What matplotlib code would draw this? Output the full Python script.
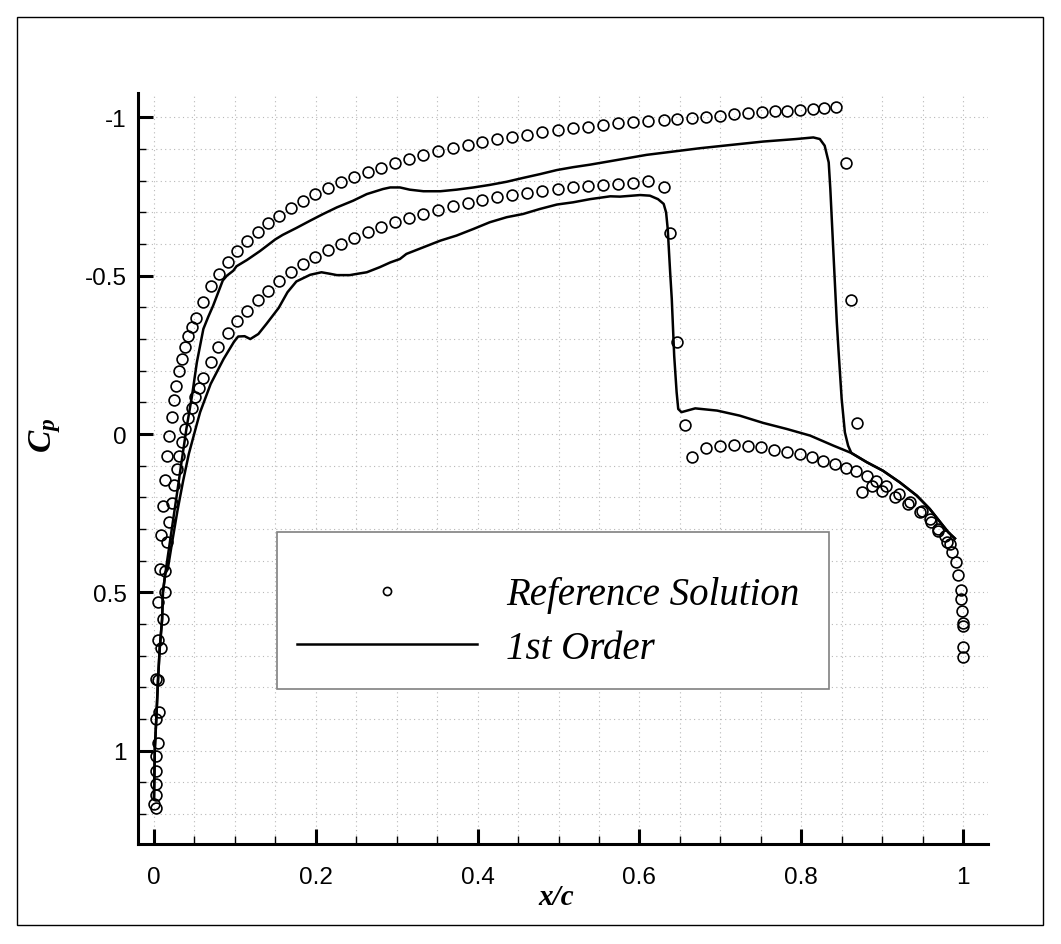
import matplotlib
matplotlib.use('Agg')
import matplotlib.pyplot as plt
from matplotlib.ticker import MultipleLocator, FuncFormatter
from matplotlib.patches import Rectangle

plt.rcParams['font.family'] = ['Liberation Sans', 'DejaVu Sans']
plt.rcParams['axes.unicode_minus'] = False
plt.rcParams['mathtext.fontset'] = 'custom'
plt.rcParams['mathtext.it'] = 'Liberation Serif:italic:bold'
plt.rcParams['mathtext.rm'] = 'Liberation Serif:bold'

# ---- reference solution (circles) ----
# stagnation region near the leading edge
ref_le_x = [0.002, 0.000, 0.002, 0.002, 0.003, 0.002, 0.005, 0.003, 0.006, 0.003,
            0.005, 0.009, 0.005, 0.011, 0.005, 0.013, 0.014, 0.007]
ref_le_cp = [1.183, 1.169, 1.141, 1.106, 1.064, 1.016, 0.976, 0.900, 0.877, 0.774,
             0.777, 0.677, 0.650, 0.585, 0.532, 0.498, 0.432, 0.427]

# surface with the stronger suction (shock near x/c = 0.86)
ref_up_x = [0.009, 0.011, 0.013, 0.016, 0.019, 0.022, 0.025, 0.027, 0.031, 0.035,
            0.038, 0.042, 0.047, 0.052, 0.060, 0.070, 0.080, 0.091, 0.103, 0.115,
            0.128, 0.141, 0.155, 0.169, 0.184, 0.199, 0.215, 0.231, 0.247, 0.264,
            0.281, 0.298, 0.315, 0.333, 0.351, 0.369, 0.388, 0.406, 0.424, 0.443,
            0.461, 0.480, 0.499, 0.518, 0.537, 0.555, 0.574, 0.592, 0.611, 0.630,
            0.647, 0.665, 0.682, 0.700, 0.717, 0.734, 0.751, 0.768, 0.783, 0.799,
            0.814, 0.828, 0.843, 0.855, 0.862, 0.869, 0.875, 0.887, 0.900, 0.916,
            0.932, 0.947, 0.959, 0.969, 0.980]
ref_up_cp = [0.319, 0.227, 0.145, 0.070, 0.007, -0.053, -0.107, -0.153, -0.198, -0.237,
             -0.274, -0.309, -0.337, -0.367, -0.418, -0.467, -0.506, -0.543, -0.579, -0.611,
             -0.639, -0.667, -0.690, -0.714, -0.737, -0.758, -0.776, -0.795, -0.811, -0.827,
             -0.840, -0.856, -0.869, -0.882, -0.893, -0.905, -0.913, -0.924, -0.932, -0.939,
             -0.946, -0.953, -0.960, -0.966, -0.970, -0.976, -0.982, -0.985, -0.988, -0.992,
             -0.995, -0.998, -1.003, -1.006, -1.010, -1.013, -1.016, -1.020, -1.021, -1.025,
             -1.027, -1.030, -1.032, -0.855, -0.424, -0.035, 0.184, 0.165, 0.179, 0.200,
             0.221, 0.245, 0.269, 0.306, 0.340]

# surface with the weaker suction (shock near x/c = 0.64)
ref_lo_x = [0.016, 0.018, 0.022, 0.025, 0.028, 0.031, 0.035, 0.038, 0.042, 0.047,
            0.051, 0.056, 0.060, 0.070, 0.079, 0.091, 0.103, 0.115, 0.128, 0.141,
            0.155, 0.169, 0.184, 0.199, 0.215, 0.231, 0.247, 0.264, 0.281, 0.298,
            0.315, 0.333, 0.351, 0.369, 0.388, 0.406, 0.424, 0.443, 0.461, 0.480,
            0.499, 0.518, 0.537, 0.555, 0.574, 0.592, 0.611, 0.630, 0.638, 0.647,
            0.656, 0.665, 0.682, 0.700, 0.717, 0.734, 0.750, 0.766, 0.783, 0.798,
            0.813, 0.827, 0.842, 0.855, 0.868, 0.881, 0.893, 0.905, 0.921, 0.934,
            0.949, 0.960, 0.969, 0.978, 0.984]
ref_lo_cp = [0.342, 0.277, 0.218, 0.161, 0.111, 0.069, 0.026, -0.016, -0.050, -0.082,
             -0.116, -0.145, -0.177, -0.228, -0.274, -0.318, -0.358, -0.390, -0.423, -0.453,
             -0.482, -0.511, -0.537, -0.560, -0.582, -0.600, -0.618, -0.637, -0.653, -0.671,
             -0.682, -0.695, -0.708, -0.720, -0.729, -0.739, -0.748, -0.756, -0.761, -0.769,
             -0.775, -0.779, -0.785, -0.788, -0.790, -0.793, -0.798, -0.781, -0.635, -0.291,
             -0.029, 0.072, 0.045, 0.037, 0.035, 0.037, 0.042, 0.050, 0.056, 0.063,
             0.072, 0.084, 0.095, 0.107, 0.118, 0.133, 0.148, 0.163, 0.190, 0.216,
             0.242, 0.277, 0.300, 0.321, 0.348]

# trailing edge column
ref_te_x = [0.987, 0.991, 0.994, 0.997, 0.998, 0.999, 1.000, 1.000, 1.000, 1.000]
ref_te_cp = [0.374, 0.405, 0.445, 0.492, 0.521, 0.558, 0.598, 0.606, 0.674, 0.706]

# ---- 1st order solution (line) ----
fo_le_x = [0.000, 0.001, 0.003, 0.005, 0.007, 0.010, 0.011, 0.014]
fo_le_cp = [1.150, 0.995, 0.890, 0.774, 0.679, 0.585, 0.500, 0.440]

fo_up_x = [0.016, 0.022, 0.028, 0.034, 0.040, 0.047, 0.053, 0.061, 0.067, 0.073,
           0.079, 0.085, 0.090, 0.098, 0.102, 0.115, 0.131, 0.150, 0.159, 0.176,
           0.193, 0.209, 0.226, 0.246, 0.263, 0.283, 0.292, 0.304, 0.316, 0.333,
           0.354, 0.374, 0.395, 0.415, 0.436, 0.456, 0.477, 0.498, 0.518, 0.539,
           0.564, 0.609, 0.650, 0.675, 0.712, 0.753, 0.794, 0.815, 0.823, 0.829,
           0.834, 0.836, 0.840, 0.844, 0.846, 0.850, 0.854, 0.858, 0.862]
fo_up_cp = [0.405, 0.300, 0.195, 0.089, -0.016, -0.121, -0.227, -0.332, -0.370, -0.405,
            -0.445, -0.485, -0.500, -0.516, -0.530, -0.550, -0.578, -0.615, -0.629, -0.651,
            -0.674, -0.695, -0.716, -0.737, -0.758, -0.774, -0.779, -0.779, -0.772, -0.767,
            -0.767, -0.772, -0.779, -0.787, -0.797, -0.809, -0.821, -0.834, -0.843, -0.851,
            -0.862, -0.882, -0.895, -0.903, -0.913, -0.924, -0.932, -0.937, -0.932, -0.911,
            -0.858, -0.774, -0.563, -0.353, -0.269, -0.111, -0.005, 0.037, 0.060]

fo_lo_x = [0.017, 0.022, 0.029, 0.036, 0.043, 0.053, 0.057, 0.070, 0.086, 0.099,
           0.104, 0.112, 0.119, 0.129, 0.139, 0.154, 0.165, 0.176, 0.193, 0.207,
           0.218, 0.226, 0.242, 0.251, 0.263, 0.279, 0.292, 0.304, 0.312, 0.333,
           0.354, 0.374, 0.395, 0.415, 0.436, 0.456, 0.477, 0.498, 0.518, 0.539,
           0.564, 0.576, 0.601, 0.613, 0.623, 0.630, 0.633, 0.635, 0.638, 0.640,
           0.643, 0.646, 0.648, 0.652, 0.669, 0.696, 0.724, 0.753, 0.782, 0.811,
           0.840, 0.862]
fo_lo_cp = [0.427, 0.348, 0.242, 0.148, 0.063, -0.032, -0.069, -0.158, -0.237, -0.292,
            -0.308, -0.309, -0.300, -0.316, -0.348, -0.398, -0.448, -0.482, -0.503, -0.511,
            -0.506, -0.502, -0.502, -0.506, -0.511, -0.527, -0.542, -0.553, -0.569, -0.590,
            -0.611, -0.627, -0.648, -0.669, -0.685, -0.695, -0.711, -0.725, -0.732, -0.742,
            -0.751, -0.750, -0.755, -0.753, -0.742, -0.727, -0.700, -0.648, -0.511, -0.427,
            -0.247, -0.132, -0.079, -0.069, -0.081, -0.074, -0.058, -0.035, -0.016, 0.005,
            0.037, 0.060]

fo_aft_x = [0.881, 0.901, 0.922, 0.943, 0.959, 0.972, 0.982, 0.990]
fo_aft_cp = [0.089, 0.116, 0.153, 0.195, 0.237, 0.279, 0.311, 0.330]

# ---- figure ----
fig = plt.figure(figsize=(10.61, 9.45), dpi=100)
ax = fig.add_axes([138 / 1061, 1 - 845 / 945, 850 / 1061, 751 / 945])

ref_x = ref_le_x + ref_up_x + ref_lo_x + ref_te_x
ref_cp = ref_le_cp + ref_up_cp + ref_lo_cp + ref_te_cp
h_ref, = ax.plot(ref_x, ref_cp, 'o', ls='none', ms=7.8, mew=1.2,
                 mfc='none', mec='black', zorder=3, label='Reference Solution')
h_fo, = ax.plot(fo_le_x + fo_up_x + fo_aft_x, fo_le_cp + fo_up_cp + fo_aft_cp,
                '-', color='black', lw=1.8, zorder=4, label='1st Order')
ax.plot(fo_le_x + fo_lo_x + fo_aft_x, fo_le_cp + fo_lo_cp + fo_aft_cp,
        '-', color='black', lw=1.8, zorder=4)

ax.set_xlim(-0.0198, 1.0309)
ax.set_ylim(1.2954, -1.0774)

ax.xaxis.set_major_locator(MultipleLocator(0.2))
ax.xaxis.set_minor_locator(MultipleLocator(0.05))
ax.yaxis.set_major_locator(MultipleLocator(0.5))
ax.yaxis.set_minor_locator(MultipleLocator(0.1))
fmt = FuncFormatter(lambda v, p: '%g' % round(v, 6))
ax.xaxis.set_major_formatter(fmt)
ax.yaxis.set_major_formatter(fmt)

ax.set_axisbelow(True)
ax.grid(True, which='both', ls=(0, (1, 3)), color='#b8b8b8', lw=0.8)

for s in ['top', 'right']:
    ax.spines[s].set_visible(False)
for s in ['left', 'bottom']:
    ax.spines[s].set_linewidth(2.2)

ax.tick_params(which='major', direction='in', length=11, width=2.2, labelsize=17.5)
ax.tick_params(which='minor', direction='in', length=6, width=1.0)
ax.tick_params(axis='x', which='major', pad=16)
ax.tick_params(axis='y', which='major', pad=8)

ax.set_xlabel('x/c', family='Liberation Serif', style='italic', weight='bold', fontsize=21)
ax.xaxis.set_label_coords(0.492, -0.052)
ax.set_ylabel('$C_p$', fontsize=24, rotation=90)
ax.yaxis.set_label_coords(-0.088, 0.545)

# legend box drawn as a figure patch, entries on top of it
fig.patches.append(Rectangle((277 / 1061, 1 - 690 / 945), 552 / 1061, 157 / 945,
                             transform=fig.transFigure, fc='white', ec='#808080', lw=1.2,
                             zorder=4))
leg = fig.legend(handles=[h_ref, h_fo], loc='center left',
                 bbox_to_anchor=(277.5 / 1061, 1 - 622.5 / 945), bbox_transform=fig.transFigure,
                 borderaxespad=0, prop={'family': 'Liberation Serif', 'style': 'italic', 'size': 28},
                 markerscale=0.75, handlelength=4.63, handletextpad=0.75, borderpad=0.5,
                 labelspacing=0.43, frameon=False)
leg.set_zorder(6)

# outer frame of the picture
fig.patches.append(Rectangle((17 / 1061, 1 - 926 / 945), 1026 / 1061, 908 / 945,
                             transform=fig.transFigure, fill=False, ec='black', lw=1.0))

fig.savefig('out.png', dpi=100)
